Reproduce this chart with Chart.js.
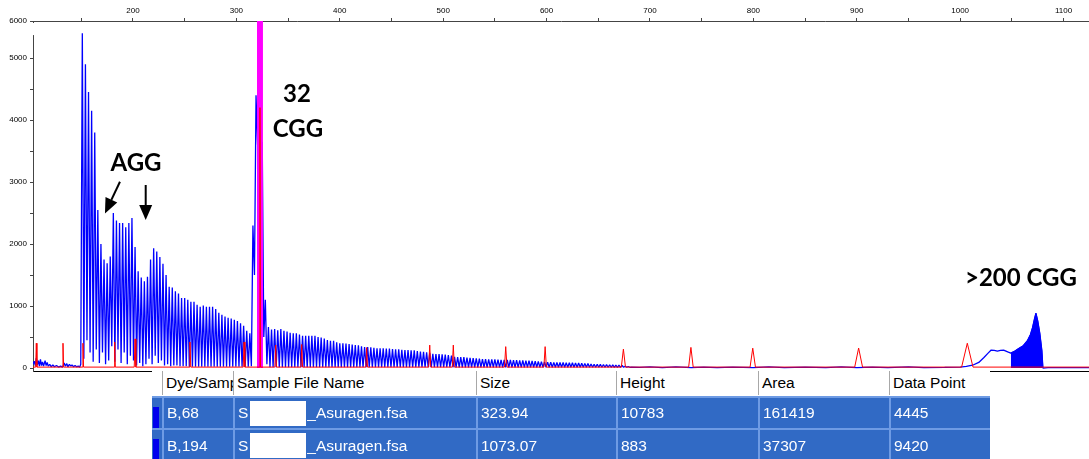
<!DOCTYPE html>
<html>
<head>
<meta charset="utf-8">
<script src="https://cdn.jsdelivr.net/npm/chart.js@4.4.0/dist/chart.umd.min.js"></script>
<style>
  html, body { margin: 0; padding: 0; background: #fff; }
  #wrap { position: relative; width: 1089px; height: 459px; overflow: hidden; }
  #trace { position: absolute; left: 0; top: 0; }
  #peaks { position: absolute; left: 152px; top: 371px; width: 838px; height: 88px;
           font-family: "Liberation Sans", Arial, sans-serif; font-size: 15.5px; }
  .row { position: absolute; left: 0; width: 838px; }
  .cell { position: absolute; top: 0; bottom: 0; overflow: hidden; white-space: nowrap;
          box-sizing: border-box; padding-left: 3px; display: flex; align-items: center; }
  .head .cell { background: #fff; color: #000; border-left: 1px solid #a8a8a8; }
  .sel .cell { background: #316ac5; color: #fff; border-left: 2px solid #6e9be4; }
  .sel { border-top: 2px solid #6e9be4; }
  .stub { padding: 0; }
  .sel .stub .mark { position: absolute; left: 1px; width: 6px; top: 9px; bottom: 0; background: #0000ee; }
  .redact { display: inline-block; width: 56px; height: 25px; background: #fff; margin: 0 1px 0 2px; }
</style>
</head>
<body>
<div id="wrap">
  <canvas id="trace" width="1089" height="459"></canvas>
  <div id="peaks"></div>
</div>
<script>
// Fragment analysis trace (FAM = blue, size standard = red), sizes in bp.

const xTicks = [150, 200, 250, 300, 350, 400, 450, 500, 550, 600, 650, 700, 750, 800, 850, 900, 950, 1000, 1050, 1100];
const yTicks = [0, 500, 1000, 1500, 2000, 2500, 3000, 3500, 4000, 4500, 5000];
const yTopLabel = "6000";

// low noise before the repeat ladder
const blueLead = [
  [103.3, 60], [104.5, 110], [105.5, 40], [106.5, 160], [107.5, 50], [108.5, 120], [109.5, 30],
  [110.5, 140], [111.5, 40], [112.5, 100], [113.5, 30], [115, 120], [116, 40], [117, 90], [118, 30],
  [119.5, 60], [121, 20], [122.5, 50], [124, 20], [126, 40], [128, 15], [130, 30], [132, 15],
  [133.5, 80], [134.5, 30], [136, 70], [137, 20], [138.5, 60], [140, 30], [141, 50], [142.5, 20],
  [144, 40], [145.5, 20], [147, 30], [148.5, 15], [149.5, 60]
];

// CGG repeat ladder: one peak every repeat unit from firstRepeat
const firstRepeat = 151;
const repeatUnit = 3;
const blueRepeatHeights = [
  5400, 4900, 4450, 4150, 3800, 2550, 2000, 1750, 1690, 1800,
  2500, 2380, 2340, 2340, 2270, 2340, 2420, 1950, 1560, 1460,
  1400, 1470, 1750, 1930, 1880, 1790, 1680, 1500, 1310, 1300,
  1240, 1200, 1130, 1130, 1100, 1070, 1070, 1020, 990, 1010,
  990, 990, 990, 950, 890, 860, 830, 810, 800, 780,
  760, 720, 680, 600, 560, 2300, 4400, 10783, 3650, 1100,
  660, 620, 630, 610, 630, 600, 590, 570, 560, 560,
  540, 520, 520, 520, 520, 520, 500, 490, 475, 450,
  440, 440, 415, 400, 400, 395, 385, 380, 370, 365,
  352, 340, 340, 335, 325, 320, 320, 320, 315, 315,
  305, 300, 300, 295, 290, 290, 285, 285, 275, 265,
  260, 255, 245, 230, 225, 225, 220, 215, 210, 200,
  180, 178, 175, 175, 170, 165, 160, 155, 150, 145,
  145, 140, 140, 140, 135, 132, 132, 130, 130, 128,
  128, 125, 122, 120, 118, 115, 112, 108, 102, 97,
  95, 95, 92, 90, 88, 88, 86, 86, 85, 82,
  80, 78, 75, 72, 65, 62, 60, 58, 56, 55,
  52, 50, 48, 45, 40, 30, 25
];
// valley after each repeat peak (later valleys sit on the baseline)
const blueTroughs = [
  150, 450, 250, 100, 300, 80, 250, 60, 120, 350,
  100, 300, 80, 250, 60, 200, 120, 40, 80, 30,
  60, 150, 60, 200, 80, 120, 40, 60, 30, 40,
  40, 30, 30, 30, 20, 20, 20, 20, 20, 20,
  20, 20, 20, 20, 20, 20, 20, 20, 20, 20,
  20, 20, 20, 20, 30, 1500, 3600, 3200, 500, 60
];
const blueBaseline = 12;

// tail, shoulder hump and the >200 CGG full mutation peak
const blueTail = [
  [682, 15], [690, 10], [700, 20], [712, 8], [725, 20], [740, 5], [752, 15], [765, 5], [780, 15],
  [800, 5], [815, 18], [830, 5], [850, 15], [870, 5], [885, 20], [900, 5], [915, 15], [930, 5],
  [950, 18], [965, 5], [985, 10], [1000, 15], [1006, 25], [1012, 45], [1018, 90], [1023, 170],
  [1027, 240], [1030, 290], [1033, 285], [1036, 272], [1039, 285], [1042, 290], [1046, 260],
  [1049, 240], [1053, 275], [1057, 320], [1061, 360], [1065, 440], [1068, 540], [1070, 650],
  [1072, 800], [1073.3, 883], [1075, 760], [1077, 560], [1079, 280], [1080, 0], [1085, 8],
  [1100, 5], [1124.6, 8]
];
const filledPeakRange = [1049, 1080];

// size standard peaks
const redSizes = [106.5, 132.3, 151.6, 182.3, 202, 255.1, 307.4, 322.8, 338, 363.2, 426, 487, 509.8, 560.5, 598.6, 674.3, 739.6, 799.4, 901.8, 1006.9];
const redHeights = [400, 400, 400, 420, 470, 420, 420, 4200, 370, 380, 330, 370, 370, 345, 345, 305, 333, 320, 322, 400];
const redHalfWidths = [0.6, 0.6, 0.6, 0.6, 0.8, 0.8, 0.8, 0.5, 0.8, 0.8, 0.8, 1, 1, 1.2, 1.2, 2, 2.2, 2.6, 3.8, 5.5];
const redBaseline = 15;

// selected peak band (323.94 bp)
const highlightRange = [319.9, 325.7];

const annotations = [
  { text: "32", x: 358.6, y: 4420 },
  { text: "CGG", x: 359.6, y: 3850 },
  { text: "AGG", x: 202.9, y: 3310 },
  { text: ">200 CGG", x: 1058.8, y: 1450 }
];
const arrows = [
  { from: [187.4, 3004], to: [172.9, 2494] },
  { from: [212.3, 2952], to: [212.3, 2387] }
];

const tableColumns = ["Dye/Sample Peak", "Sample File Name", "Size", "Height", "Area", "Data Point"];
const tableRows = [
  ["B,68", ["S", "_Asuragen.fsa"], "323.94", "10783", "161419", "4445"],
  ["B,194", ["S", "_Asuragen.fsa"], "1073.07", "883", "37307", "9420"]
];

const xMin = 103.3, xMax = 1124.6;
const yMin = -48, yMax = 5597;
const yAxisStart = 5370; // the left axis line only starts below the top tick

// ---- build traces ----
const bluePoints = blueLead.map(([x, y]) => ({ x, y }));
blueRepeatHeights.forEach((h, i) => {
  const s = firstRepeat + repeatUnit * i;
  bluePoints.push({ x: s, y: h });
  const t = i < blueTroughs.length ? blueTroughs[i] : blueBaseline;
  bluePoints.push({ x: s + repeatUnit / 2, y: t });
});
blueTail.forEach(([x, y]) => bluePoints.push({ x, y }));

const fillPoints = blueTail
  .filter(([x]) => x >= filledPeakRange[0] && x <= filledPeakRange[1])
  .map(([x, y]) => ({ x, y }));

const redPoints = [{ x: xMin, y: redBaseline }];
redSizes.forEach((s, i) => {
  const w = redHalfWidths[i];
  redPoints.push({ x: s - w, y: redBaseline });
  redPoints.push({ x: s, y: redHeights[i] });
  redPoints.push({ x: s + w, y: redBaseline });
});
redPoints.push({ x: xMax, y: redBaseline });

const bandPoints = [{ x: highlightRange[0], y: yMax }, { x: highlightRange[1], y: yMax }];

const annotationPlugin = {
  id: "notes",
  afterDatasetsDraw(chart) {
    const { ctx, scales: { x, y } } = chart;
    ctx.save();
    ctx.fillStyle = "#000";
    ctx.strokeStyle = "#000";
    ctx.font = "bold 24px Lato";
    ctx.textAlign = "center";
    ctx.textBaseline = "middle";
    annotations.forEach((a) => ctx.fillText(a.text, x.getPixelForValue(a.x), y.getPixelForValue(a.y)));
    arrows.forEach((a) => {
      const x0 = x.getPixelForValue(a.from[0]), y0 = y.getPixelForValue(a.from[1]);
      const x1 = x.getPixelForValue(a.to[0]), y1 = y.getPixelForValue(a.to[1]);
      const ang = Math.atan2(y1 - y0, x1 - x0);
      const len = 15, half = 6.5;
      const bx = x1 - len * Math.cos(ang), by = y1 - len * Math.sin(ang);
      ctx.lineWidth = 2;
      ctx.beginPath();
      ctx.moveTo(x0, y0);
      ctx.lineTo(bx, by);
      ctx.stroke();
      ctx.beginPath();
      ctx.moveTo(x1, y1);
      ctx.lineTo(bx + half * Math.sin(ang), by - half * Math.cos(ang));
      ctx.lineTo(bx - half * Math.sin(ang), by + half * Math.cos(ang));
      ctx.closePath();
      ctx.fill();
    });
    ctx.restore();
  },
  afterDraw(chart) {
    // gap in the left axis line between the top tick and the plot
    const { ctx, chartArea, scales: { y } } = chart;
    const top = chartArea.top + 2;
    ctx.save();
    ctx.fillStyle = "#fff";
    ctx.fillRect(chartArea.left - 1, top, 2, y.getPixelForValue(yAxisStart) - top);
    ctx.restore();
  }
};

const tickFont = { family: "Liberation Sans", size: 8 };

new Chart(document.getElementById("trace"), {
  type: "line",
  data: {
    datasets: [
      { label: "Size standard", data: redPoints, borderColor: "#ff0000", borderWidth: 1, borderJoinStyle: "bevel", pointRadius: 0, order: 0 },
      { label: "Selected", data: bandPoints, borderWidth: 0, borderColor: "#ff00ff", backgroundColor: "#ff00ff", fill: "origin", pointRadius: 0, order: 1 },
      { label: "FAM", data: bluePoints, borderColor: "#0000ff", borderWidth: 1.3, borderJoinStyle: "bevel", pointRadius: 0, order: 2 },
      { label: "FAM peak", data: fillPoints, borderColor: "#0000ff", backgroundColor: "#0000ff", borderWidth: 1, borderJoinStyle: "bevel", fill: "origin", pointRadius: 0, order: 2 }
    ]
  },
  options: {
    responsive: false,
    animation: false,
    layout: { padding: 0 },
    plugins: { legend: { display: false }, tooltip: { enabled: false } },
    scales: {
      x: {
        type: "linear",
        position: "top",
        min: xMin,
        max: xMax,
        afterBuildTicks: (s) => { s.ticks = xTicks.map((v) => ({ value: v })); },
        afterFit: (s) => { s.height = 21; },
        ticks: {
          autoSkip: false, maxRotation: 0, padding: 2, color: "#000", font: tickFont,
          callback: (v) => (v % 100 === 0 ? String(v) : "")
        },
        grid: { drawOnChartArea: false, tickLength: 3, color: "#444" },
        border: { color: "#444" }
      },
      x2: {
        type: "linear",
        position: "bottom",
        min: xMin,
        max: xMax,
        afterFit: (s) => { s.height = 88; },
        ticks: { display: false },
        grid: { drawOnChartArea: false, drawTicks: false, color: "rgba(0,0,0,0)" },
        border: { color: "#000" }
      },
      y: {
        type: "linear",
        min: yMin,
        max: yMax,
        afterBuildTicks: (s) => { s.ticks = yTicks.concat([yMax]).map((v) => ({ value: v })); },
        afterFit: (s) => { s.width = 33; },
        ticks: {
          autoSkip: false, padding: 3, color: "#000", font: tickFont,
          callback: (v) => (v === yMax ? yTopLabel : (v % 1000 === 0 ? String(v) : ""))
        },
        grid: { drawOnChartArea: false, tickLength: 3, color: "#444" },
        border: { color: "#444" }
      }
    }
  },
  plugins: [annotationPlugin]
});

// ---- peak table ----
const colLeft = [0, 10, 81, 324, 464, 606, 737, 838];
const rowTop = [0, 25, 57];
const rowHeight = [24, 30, 31];
const table = document.getElementById("peaks");

function addRow(cls, idx, cells) {
  const row = document.createElement("div");
  row.className = "row " + cls;
  row.style.top = rowTop[idx] + "px";
  row.style.height = rowHeight[idx] + "px";
  const stub = document.createElement("div");
  stub.className = "cell stub";
  stub.style.left = "0px";
  stub.style.width = colLeft[1] + "px";
  stub.style.borderLeft = "none";
  stub.innerHTML = '<span class="mark"></span>';
  row.appendChild(stub);
  cells.forEach((c, i) => {
    const cell = document.createElement("div");
    cell.className = "cell";
    cell.style.left = colLeft[i + 1] + "px";
    cell.style.width = (colLeft[i + 2] - colLeft[i + 1]) + "px";
    if (Array.isArray(c)) {
      cell.append(c[0]);
      const r = document.createElement("span");
      r.className = "redact";
      cell.appendChild(r);
      cell.append(c[1]);
    } else {
      cell.textContent = c;
    }
    row.appendChild(cell);
  });
  table.appendChild(row);
}

addRow("head", 0, tableColumns);
tableRows.forEach((r, i) => addRow("sel", i + 1, r));
</script>
</body>
</html>
